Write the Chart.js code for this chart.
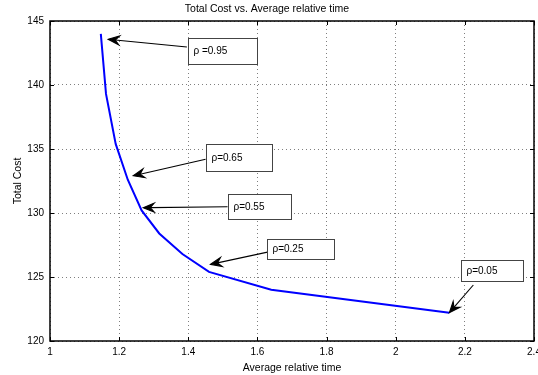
<!DOCTYPE html>
<html>
<head>
<meta charset="utf-8">
<script src="https://cdn.jsdelivr.net/npm/chart.js@4/dist/chart.umd.min.js"></script>
<style>
  html, body { margin: 0; padding: 0; background: #fff; }
  #wrap { width: 538px; height: 375px; }
</style>
</head>
<body>
<div id="wrap"><canvas id="c" width="538" height="375"></canvas></div>
<script>
// ---- data ----
const rhoValues   = [0.95, 0.85, 0.75, 0.65, 0.55, 0.45, 0.35, 0.25, 0.15, 0.05];
const avgRelTime  = [1.147, 1.162, 1.190, 1.225, 1.265, 1.316, 1.383, 1.460, 1.640, 2.155];
const totalCost   = [144.0, 139.3, 135.4, 132.6, 130.2, 128.4, 126.8, 125.4, 124.0, 122.2];
const xTickLabels = ['1', '1.2', '1.4', '1.6', '1.8', '2', '2.2', '2.4'];
const yTickLabels = ['120', '125', '130', '135', '140', '145'];
const noteTexts   = ['\u03c1 =0.95', '\u03c1=0.65', '\u03c1=0.55', '\u03c1=0.25', '\u03c1=0.05'];
// arrow tip in data units
const noteTipX    = [1.1685, 1.2408, 1.2697, 1.4645, 2.1552];
const noteTipY    = [143.57, 132.91, 130.41, 125.99, 122.21];

// ---- annotation layout (data units) ----
const noteLayout = [
  {tail: [1.396, 142.97], box: [1.398, 143.65, 1.599, 141.64]},
  {tail: [1.450, 134.20], box: [1.450, 135.39, 1.642, 133.30]},
  {tail: [1.5136, 130.49], box: [1.5136, 131.46, 1.6965, 129.51]},
  {tail: [1.6358, 126.98], box: [1.6272, 127.95, 1.8228, 126.41]},
  {tail: [2.2245, 124.375], box: [2.1887, 126.30, 2.3679, 124.71]}
];

const FONT = "'Liberation Sans', Arial, Helvetica, sans-serif";
const points = avgRelTime.map((x, i) => ({x: x, y: totalCost[i]}));

const bgPlugin = {
  id: 'bg',
  beforeDraw(chart) {
    const ctx = chart.ctx;
    ctx.save();
    ctx.fillStyle = '#fff';
    ctx.fillRect(0, 0, chart.width, chart.height);
    ctx.restore();
  }
};

function drawArrow(ctx, x0, y0, x1, y1) {
  const a = Math.atan2(y1 - y0, x1 - x0);
  const L = 11, W = 4.5, N = 7;
  const ca = Math.cos(a), sa = Math.sin(a);
  const bx = x1 - L * ca, by = y1 - L * sa;
  const nx = x1 - N * ca, ny = y1 - N * sa;
  ctx.beginPath();
  ctx.moveTo(x0, y0);
  ctx.lineTo(nx, ny);
  ctx.stroke();
  ctx.beginPath();
  ctx.moveTo(x1, y1);
  ctx.lineTo(bx - W * sa, by + W * ca);
  ctx.lineTo(nx, ny);
  ctx.lineTo(bx + W * sa, by - W * ca);
  ctx.closePath();
  ctx.fill();
  ctx.stroke();
}

const framePlugin = {
  id: 'frame',
  afterDatasetsDraw(chart) {
    const {ctx, chartArea: a, scales: {x, y}} = chart;
    ctx.save();
    // annotations
    ctx.lineWidth = 1.1;
    ctx.lineJoin = 'miter';
    ctx.strokeStyle = '#000';
    ctx.fillStyle = '#000';
    noteTexts.forEach((t, i) => {
      const L = noteLayout[i];
      const tx = x.getPixelForValue(L.tail[0]), ty = y.getPixelForValue(L.tail[1]);
      const px = x.getPixelForValue(noteTipX[i]), py = y.getPixelForValue(noteTipY[i]);
      drawArrow(ctx, tx, ty, px, py);
    });
    noteTexts.forEach((t, i) => {
      const L = noteLayout[i];
      const bx0 = Math.round(x.getPixelForValue(L.box[0])) + 0.5;
      const by0 = Math.round(y.getPixelForValue(L.box[1])) + 0.5;
      const bx1 = Math.round(x.getPixelForValue(L.box[2])) + 0.5;
      const by1 = Math.round(y.getPixelForValue(L.box[3])) + 0.5;
      ctx.fillStyle = '#fff';
      ctx.fillRect(bx0, by0, bx1 - bx0, by1 - by0);
      ctx.strokeStyle = '#444';
      ctx.lineWidth = 1;
      ctx.strokeRect(bx0, by0, bx1 - bx0, by1 - by0);
      ctx.fillStyle = '#000';
      ctx.font = '10px ' + FONT;
      ctx.textBaseline = 'middle';
      ctx.textAlign = 'left';
      ctx.fillText(t, bx0 + 5, (by0 + by1) / 2);
    });
    // frame
    ctx.strokeStyle = '#000';
    ctx.lineWidth = 1.5;
    ctx.strokeRect(a.left, a.top, a.right - a.left, a.bottom - a.top);
    // inward ticks
    ctx.lineWidth = 1;
    const tl = 4;
    ctx.beginPath();
    x.ticks.forEach(tk => {
      const px = Math.round(x.getPixelForValue(tk.value)) + 0.5;
      ctx.moveTo(px, a.bottom); ctx.lineTo(px, a.bottom - tl);
      ctx.moveTo(px, a.top); ctx.lineTo(px, a.top + tl);
    });
    y.ticks.forEach(tk => {
      const py = Math.round(y.getPixelForValue(tk.value)) + 0.5;
      ctx.moveTo(a.left, py); ctx.lineTo(a.left + tl, py);
      ctx.moveTo(a.right, py); ctx.lineTo(a.right - tl, py);
    });
    ctx.stroke();
    ctx.restore();
  }
};

new Chart(document.getElementById('c'), {
  type: 'line',
  data: {
    datasets: [{
      data: points,
      borderColor: '#0000ff',
      borderWidth: 2,
      pointRadius: 0,
      fill: false,
      tension: 0
    }]
  },
  options: {
    responsive: false,
    animation: false,
    events: [],
    parsing: false,
    layout: { padding: {left: 0, right: 4, top: 0, bottom: 0} },
    plugins: {
      legend: { display: false },
      tooltip: { enabled: false },
      title: {
        display: true,
        text: 'Total Cost vs. Average relative time',
        color: '#000',
        font: { family: FONT, size: 10.5, weight: 'normal' },
        padding: { top: 3, bottom: 5.4 }
      }
    },
    scales: {
      x: {
        type: 'linear',
        min: 1, max: 2.4,
        afterBuildTicks(s) { s.ticks = xTickLabels.map(v => ({value: parseFloat(v)})); },
        ticks: {
          color: '#000',
          font: { family: FONT, size: 10 },
          padding: 5,
          maxRotation: 0,
          autoSkip: false,
          callback: (v, i) => xTickLabels[i]
        },
        grid: { color: 'rgba(0,0,0,0.5)', lineWidth: 1, drawTicks: false },
        border: { display: false, dash: [1, 3] },
        title: {
          display: true,
          text: 'Average relative time',
          color: '#000',
          font: { family: FONT, size: 10.5 },
          padding: { top: 0, bottom: 1 }
        },
        afterFit(s) { s.height = 34; s.paddingLeft = 0; s.paddingRight = 0; }
      },
      y: {
        type: 'linear',
        min: 120, max: 145,
        afterBuildTicks(s) { s.ticks = yTickLabels.map(v => ({value: parseFloat(v)})); },
        ticks: {
          color: '#000',
          font: { family: FONT, size: 10 },
          padding: 6,
          autoSkip: false,
          callback: (v, i) => yTickLabels[i]
        },
        grid: { color: 'rgba(0,0,0,0.5)', lineWidth: 1, drawTicks: false },
        border: { display: false, dash: [1, 3] },
        title: {
          display: true,
          text: 'Total Cost',
          color: '#000',
          font: { family: FONT, size: 10.5 },
          padding: { top: 12, bottom: 0 }
        },
        afterFit(s) { s.width = 50; s.paddingTop = 0; s.paddingBottom = 0; }
      }
    }
  },
  plugins: [bgPlugin, framePlugin]
});
</script>
</body>
</html>
